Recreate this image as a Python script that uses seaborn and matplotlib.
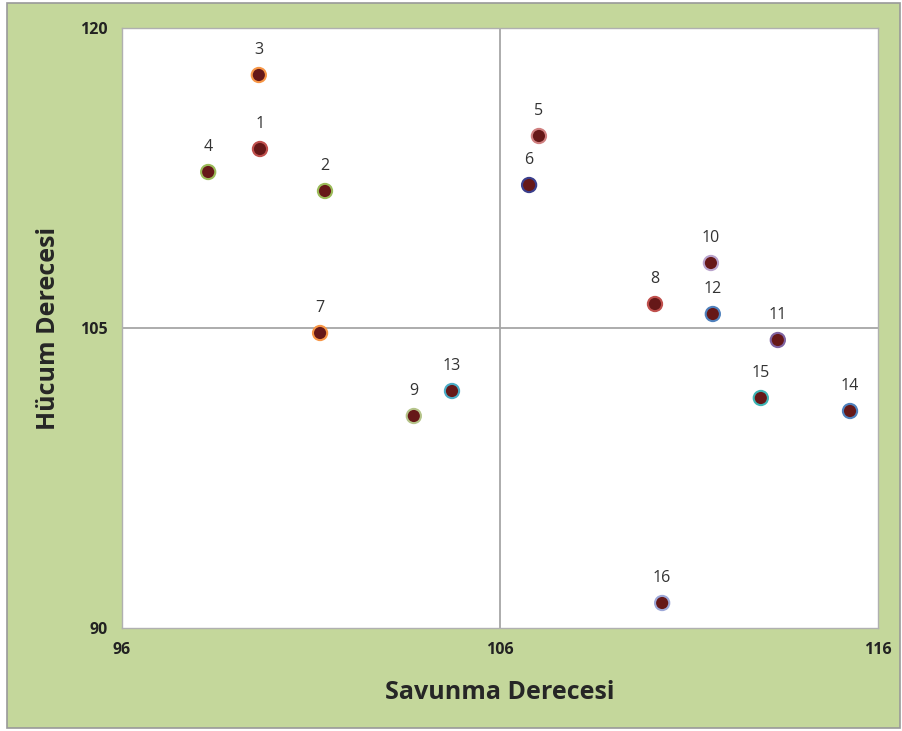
import matplotlib.pyplot as plt
import seaborn as sns
import pandas as pd
from matplotlib.patches import Rectangle

# team ratings
teams = ["1", "2", "3", "4", "5", "6", "7", "8", "9", "10", "11", "12", "13", "14", "15", "16"]
savunma = [99.65, 101.37, 99.62, 98.28, 107.03, 106.77, 101.24, 110.1, 103.72,
           111.58, 113.35, 111.63, 104.73, 115.26, 112.9, 110.29]
hucum = [113.95, 111.85, 117.65, 112.8, 114.6, 112.15, 104.75, 106.2, 100.6,
         108.25, 104.4, 105.7, 101.85, 100.85, 101.5, 91.25]
edge_colors = ["#C0504D", "#9BBB59", "#F79646", "#9BBB59", "#D08080", "#3B3F8C",
               "#F79646", "#C0504D", "#B5C48A", "#B9A3CC", "#8064A2", "#4F81BD",
               "#4BACC6", "#4F81BD", "#3FB5B5", "#9DA8D8"]

df = pd.DataFrame({"team": teams, "savunma": savunma, "hucum": hucum})

sns.set_style("white")
plt.rcParams["font.family"] = ["Open Sans", "DejaVu Sans"]

fig = plt.figure(figsize=(9.02, 7.31), dpi=100)
fig.patch.set_facecolor("white")
fig.patches.append(Rectangle((7 / 902, 3 / 731), 893 / 902, 725 / 731,
                             transform=fig.transFigure, facecolor="#C4D79B",
                             edgecolor="#999999", linewidth=1.2, zorder=-1))

ax = fig.add_axes([122 / 902, 1 - 628 / 731, 756 / 902, 600 / 731])
ax.set_facecolor("white")

ax.axvline(106, color="#A6A6A6", linewidth=1.3, zorder=1)
ax.axhline(105, color="#A6A6A6", linewidth=1.3, zorder=1)

sns.scatterplot(data=df, x="savunma", y="hucum", ax=ax, s=105,
                color="#661818", edgecolor=edge_colors, linewidth=1.5, zorder=3)

for t, x, y in zip(teams, savunma, hucum):
    ax.annotate(t, (x, y), xytext=(0, 12), textcoords="offset points",
                ha="center", va="bottom", fontsize=11.5, color="#333333")

ax.set_xlim(96, 116)
ax.set_ylim(90, 120)
ax.set_xticks([96, 106, 116])
ax.set_yticks([90, 105, 120])
ax.tick_params(axis="both", direction="out", length=5, color="#A6A6A6",
               labelsize=11.5, pad=5)
for lab in ax.get_xticklabels() + ax.get_yticklabels():
    lab.set_fontweight("bold")
    lab.set_color("#222222")
for sp in ax.spines.values():
    sp.set_color("#B0B0B0")
    sp.set_linewidth(1.0)

ax.set_xlabel("Savunma Derecesi", fontsize=18, fontweight="bold", labelpad=16)
ax.set_ylabel("Hücum Derecesi", fontsize=18, fontweight="bold", labelpad=14)

fig.savefig("out.png", dpi=100)
